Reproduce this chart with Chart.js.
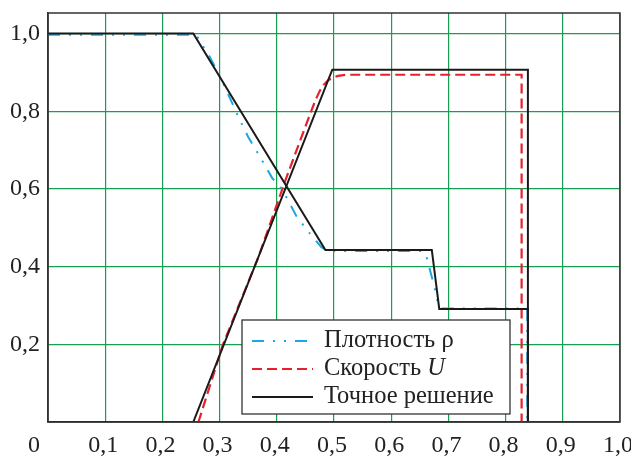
<!DOCTYPE html>
<html>
<head>
<meta charset="utf-8">
<script src="https://cdn.jsdelivr.net/npm/chart.js@4/dist/chart.umd.min.js"></script>
<style>
html,body{margin:0;padding:0;background:#fff;}
#wrap{width:631px;height:457px;position:relative;}
</style>
</head>
<body>
<div id="wrap"><canvas id="c" width="631" height="457"></canvas></div>
<script>
// ---- data ----
const xTicks = [0, 0.1, 0.2, 0.3, 0.4, 0.5, 0.6, 0.7, 0.8, 0.9, 1.0];
const yTicks = [0.2, 0.4, 0.6, 0.8, 1.0];

// numeric density (cyan, dash-dot-dot)
const rhoX = [0, 0.256, 0.262, 0.270, 0.283, 0.304, 0.333, 0.350, 0.371, 0.392, 0.409, 0.435, 0.458, 0.478, 0.487, 0.495, 0.655, 0.661, 0.665, 0.671, 0.677, 0.682, 0.688, 0.838, 0.838];
const rhoY = [0.997, 0.997, 0.99, 0.97, 0.94, 0.88, 0.785, 0.734, 0.682, 0.628, 0.600, 0.528, 0.485, 0.450, 0.442, 0.440, 0.440, 0.429, 0.408, 0.373, 0.339, 0.305, 0.292, 0.292, 0];

// numeric velocity U (red, dashed)
const uX = [0, 0.263, 0.306, 0.368, 0.414, 0.441, 0.460, 0.468, 0.475, 0.482, 0.489, 0.497, 0.507, 0.520, 0.828, 0.828];
const uY = [0, 0, 0.200, 0.425, 0.618, 0.725, 0.800, 0.830, 0.852, 0.868, 0.879, 0.886, 0.891, 0.894, 0.894, 0];

// exact solution (black)
const exRhoX = [0, 0.254, 0.485, 0.671, 0.684, 0.839, 0.839];
const exRhoY = [1.0, 1.0, 0.443, 0.443, 0.291, 0.291, 0];
const exUX = [0, 0.254, 0.497, 0.839, 0.839];
const exUY = [0, 0, 0.907, 0.907, 0];

const legendLabels = ['Плотность ρ', 'Скорость ', 'Точное решение'];
const legendItalic = ['', 'U', ''];

const pts = (xs, ys) => xs.map((x, i) => ({x: x, y: ys[i]}));
const fmt = v => v.toFixed(1).replace('.', ',');

const FONT = "'Liberation Serif', 'DejaVu Serif', serif";
const TICK_SIZE = 24;
const LEG_SIZE = 24.5;
const CYAN = '#1aa6e4';
const RED = '#e8202c';
const BLACK = '#1a1a1a';
const CYAN_DASH = [12, 9, 2, 9, 2, 9];
const RED_DASH = [10, 5];

const framePlugin = {
  id: 'frame',
  afterDatasetsDraw(chart) {
    const {ctx, chartArea: a} = chart;
    ctx.save();
    ctx.strokeStyle = '#333';
    ctx.lineWidth = 1.5;
    ctx.strokeRect(a.left, a.top, a.right - a.left, a.bottom - a.top);

    // legend box
    const bx = 242, by = 320, bw = 268, bh = 94;
    ctx.fillStyle = '#fff';
    ctx.fillRect(bx, by, bw, bh);
    ctx.strokeStyle = '#333';
    ctx.lineWidth = 1.3;
    ctx.strokeRect(bx, by, bw, bh);
    const rows = [
      {color: CYAN, dash: CYAN_DASH, w: 2},
      {color: RED, dash: RED_DASH, w: 2.2},
      {color: BLACK, dash: [], w: 2}
    ];
    const rowY = [341, 369, 397];
    rows.forEach((r, i) => {
      ctx.beginPath();
      ctx.setLineDash(r.dash);
      ctx.strokeStyle = r.color;
      ctx.lineWidth = r.w;
      ctx.moveTo(252, rowY[i]);
      ctx.lineTo(313, rowY[i]);
      ctx.stroke();
      ctx.setLineDash([]);
      ctx.fillStyle = '#222';
      ctx.textBaseline = 'middle';
      ctx.textAlign = 'left';
      ctx.font = LEG_SIZE + 'px ' + FONT;
      ctx.fillText(legendLabels[i], 324, rowY[i]);
      if (legendItalic[i]) {
        const w = ctx.measureText(legendLabels[i]).width;
        ctx.font = 'italic ' + LEG_SIZE + 'px ' + FONT;
        ctx.fillText(legendItalic[i], 324 + w, rowY[i]);
      }
    });
    ctx.restore();
  },
  afterDraw(chart) {
    const {ctx} = chart;
    const xs = chart.scales.x;
    ctx.save();
    ctx.fillStyle = '#222';
    ctx.font = TICK_SIZE + 'px ' + FONT;
    ctx.textAlign = 'right';
    ctx.textBaseline = 'middle';
    ctx.fillText('0', xs.getPixelForValue(0) - 8, 446);
    ctx.restore();
  }
};

new Chart(document.getElementById('c'), {
  type: 'scatter',
  data: {
    datasets: [
      {label: 'Точное решение', data: pts(exRhoX, exRhoY), borderColor: BLACK, borderWidth: 2},
      {label: 'Точное решение', data: pts(exUX, exUY), borderColor: BLACK, borderWidth: 2},
      {label: 'Плотность ρ', data: pts(rhoX, rhoY), borderColor: CYAN, borderWidth: 2, borderDash: CYAN_DASH},
      {label: 'Скорость U', data: pts(uX, uY), borderColor: RED, borderWidth: 2.2, borderDash: RED_DASH}
    ].map(d => Object.assign(d, {showLine: true, pointRadius: 0, tension: 0, fill: false}))
  },
  options: {
    responsive: false,
    animation: false,
    layout: {padding: {left: 0, top: 13, right: 11, bottom: 0}},
    plugins: {legend: {display: false}, tooltip: {enabled: false}},
    scales: {
      x: {
        type: 'linear', min: 0, max: 1,
        afterBuildTicks: s => { s.ticks = xTicks.map(v => ({value: v})); },
        ticks: {
          callback: v => (Math.abs(v) < 1e-9 ? '' : fmt(v)),
          font: {family: FONT, size: TICK_SIZE}, color: '#222', padding: 9, labelOffset: -2,
          maxRotation: 0, autoSkip: false
        },
        grid: {color: 'rgb(20,160,80)', lineWidth: 1.2, drawTicks: false},
        border: {display: true, color: '#333', width: 1.5},
        afterFit: s => { s.height = 35; s.paddingLeft = 0; s.paddingRight = 0; }
      },
      y: {
        type: 'linear', min: 0, max: 1.053,
        afterBuildTicks: s => { s.ticks = [0].concat(yTicks).map(v => ({value: v})); },
        ticks: {
          callback: v => (Math.abs(v) < 1e-9 ? '' : fmt(v)),
          font: {family: FONT, size: TICK_SIZE}, color: '#222', padding: 8, autoSkip: false
        },
        grid: {color: 'rgb(20,160,80)', lineWidth: 1.2, drawTicks: false},
        border: {display: true, color: '#333', width: 1.5},
        afterFit: s => { s.width = 48; s.paddingTop = 0; s.paddingBottom = 0; }
      }
    }
  },
  plugins: [framePlugin]
});
</script>
</body>
</html>
